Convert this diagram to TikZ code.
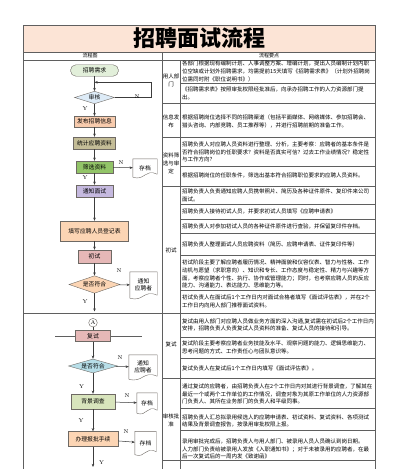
\documentclass[tikz,border=0pt]{standalone}
\usepackage{fontspec}
\newfontfamily\cjk{Noto Sans CJK SC}
\usetikzlibrary{arrows.meta,positioning,calc,shapes.geometric}
\definecolor{titlebg}{RGB}{252,228,214}
\definecolor{linecol}{RGB}{95,95,95}
\definecolor{boxline}{RGB}{110,105,100}
\definecolor{arrowcol}{RGB}{60,60,60}
\definecolor{needfill}{RGB}{226,239,218}
\definecolor{checkfill}{RGB}{221,235,247}
\definecolor{pubfill}{RGB}{248,203,173}
\definecolor{statfill}{RGB}{196,189,151}
\definecolor{screenfill}{RGB}{146,196,104}
\definecolor{notifyfill}{RGB}{197,185,223}
\definecolor{peachfill}{RGB}{252,213,180}
\definecolor{pinkfill}{RGB}{230,184,183}
\definecolor{bluefill}{RGB}{183,222,232}
\definecolor{bgfill}{RGB}{216,228,188}
\newcommand{\flowfont}{\cjk\fontsize{5.8}{6.6}\selectfont}
\newcommand{\descfont}{\cjk\fontsize{5.5}{7.8}\selectfont}
\newcommand{\docoutline}[1]{\draw[boxline, line width=0.4pt] (#1.north west) -- (#1.north east)
  -- ([yshift=3pt]#1.south east) .. controls ([yshift=9pt]#1.south) and ([yshift=-4pt]#1.south) .. (#1.south west) -- cycle;}
\tikzset{
  tableline/.style={draw=linecol, line width=0.5pt},
  flow/.style={draw=arrowcol, line width=0.5pt, -{Stealth[length=3.2pt,width=2.6pt]}},
  procbox/.style={draw=boxline, line width=0.4pt, inner sep=0pt, font=\flowfont},
  decision/.style={diamond, draw=boxline, line width=0.4pt, aspect=3, inner sep=0pt, font=\flowfont},
  docbox/.style={inner sep=0pt, font=\flowfont, align=center},
  yn/.style={font=\fontsize{5.5}{6}\selectfont, inner sep=0pt},
  head/.style={font=\cjk\fontsize{5}{6}\selectfont, inner sep=0pt},
  desc/.style={anchor=west, align=left, inner sep=0pt, font=\descfont},
  cat/.style={align=center, inner sep=0pt, font=\descfont}
}

\begin{document}
\begin{tikzpicture}[x=1pt, y=-1pt, >=Stealth]
\useasboundingbox (0,0) rectangle (400,469);
% title and header
\fill[titlebg] (23,25) rectangle (375,52);
\node[font=\cjk\bfseries\fontsize{22}{24}\selectfont, inner sep=0pt] (title) at (199,38.5) {招聘面试流程};
\node[head] (hflow) at (90,56) {流程图};
\node[head] (hpoint) at (269,56) {流程要点};
% table
\draw[tableline] (23,469) -- (23,25) -- (375,25) -- (375,469);
\draw[tableline] (23,52) -- (375,52);
\draw[tableline] (23,60) -- (375,60);
\draw[tableline] (162,52) -- (162,469);
\draw[tableline] (180,60) -- (180,469);
\foreach \y in {103,137,186,378,460} \draw[tableline] (162,\y) -- (375,\y);
\foreach \y in {83,166,204,219,233,255,290,337,358,408,430} \draw[tableline] (180,\y) -- (375,\y);
\draw[tableline, line width=1pt] (23,313) -- (375,313);
\draw[tableline] (55,336) -- (142,336);

% categories
\node[cat] (c1) at (171,80) {用人部\\门};
\node[cat] (c2) at (171,121.5) {信息发\\布};
\node[cat] (c3) at (171,163.5) {资料筛\\选与审\\定};
\node[cat] (c4) at (171,250.5) {初试};
\node[cat] (c5) at (171,344) {复试};
\node[cat] (c6) at (171,420) {审核批\\准};

% key points
\node[desc] (d1) at (182,71.5) {各部门根据现有编制计划、人事调整方案、增编计划，提出人员编制计划内职\\位空缺或计划外招聘需求，均需提前15天填写《招聘需求表》（计划外招聘岗\\位需同时附《职位说明书》）};
\node[desc] (d2) at (182,93.5) {《招聘需求表》按照审批权限经批准后，向承办招聘工作的人力资源部门提\\出。};
\node[desc] (d3) at (182,121.5) {根据招聘岗位选择不同的招聘渠道（包括平面媒体、网络媒体、参加招聘会、\\猎头咨询、内部竞聘、员工推荐等），并进行招聘前期的准备工作。};
\node[desc] (d4) at (182,152) {招聘负责人对应聘人员资料进行整理、分析，主要考察：应聘者的基本条件是\\否符合招聘岗位的任职要求？资料是否真实可信？过去工作业绩情况？稳定性\\与工作方向？};
\node[desc] (d5) at (182,175) {根据招聘岗位的任职条件，筛选出基本符合招聘职位要求的应聘人员资料。};
\node[desc] (d6) at (182,195) {招聘负责人负责通知应聘人员携带照片、简历及各种证件原件、复印件来公司\\面试。};
\node[desc] (d7) at (182,211.5) {招聘负责人接待初试人员，并要求初试人员填写《应聘申请表》};
\node[desc] (d8) at (182,226) {招聘负责人对参加初试人员的各种证件原件进行查验，并保留复印件存档。};
\node[desc] (d9) at (182,244) {招聘负责人整理面试人员应聘资料（简历、应聘申请表、证件复印件等）};
\node[desc] (d10) at (182,274) {初试阶段主要了解应聘者履历情况、精神面貌和仪容仪表、智力与性格、工作\\动机与愿望（求职意向）、知识和专长、工作态度与稳定性、精力与兴趣等方\\面，考察应聘者个性、执行、协作或管理能力；同时，也考察应聘人员的反应\\能力、沟通能力、表达能力、思维能力等。};
\node[desc] (d11) at (182,301.5) {初试负责人在面试后1个工作日内对面试合格者填写《面试评估表》，并在2个\\工作日内向用人部门推荐面试资料。};
\node[desc] (d12) at (182,325) {复试由用人部门对应聘人员做业务方面的深入沟通,复试需在初试后2个工作日内\\安排，招聘负责人负责复试人员资料的准备、复试人员的接待和引导。};
\node[desc] (d13) at (182,347.5) {复试阶段主要考察应聘者业务技能及水平、观察问题的能力、逻辑思维能力、\\思考问题的方式、工作责任心与团队意识等。};
\node[desc] (d14) at (182,368) {复试负责人在复试后1个工作日内填写《面试评估表》。};
\node[desc] (d15) at (182,394) {通过复试的应聘者，由招聘负责人在2个工作日内对其进行背景调查，了解其在\\最近一个或两个工作单位的工作情况，调查对象为其原工作单位的人力资源部\\门负责人、其所在业务部门的负责人和平级同事。};
\node[desc] (d16) at (182,421) {招聘负责人汇总拟录用候选人的应聘申请表、初试资料、复试资料、各项测试\\结果及背景调查报告，按录用审批权限上报。};
\node[desc] (d17) at (182,449) {录用审批完成后，招聘负责人与用人部门、被录用人员人员确认到岗日期。\\人力部门负责给被录用人发放《入职通知书》；对于未被录用的应聘者，在最\\后一次复试后的一周内发《致谢函》};

% flow chart
\node[procbox, fill=needfill, rounded corners=5.5pt, minimum width=48pt, minimum height=11.5pt] (need) at (94.5,70.5) {招聘需求};
\node[decision, fill=checkfill, minimum width=40pt, minimum height=12.5pt] (check) at (94.5,97.5) {审核};
\node[procbox, fill=pubfill, minimum width=41pt, minimum height=10.5pt] (publish) at (94.5,121.5) {发布招聘信息};
\node[procbox, fill=statfill, minimum width=42pt, minimum height=12pt] (stats) at (94.5,143) {统计应聘资料};
\node[procbox, fill=screenfill, minimum width=37pt, minimum height=12pt] (screen) at (94.5,167) {筛选资料};
\node[docbox, minimum width=24pt, minimum height=18pt] (store1) at (145,168) {存档};
\node[procbox, fill=notifyfill, minimum width=36.5pt, minimum height=12pt] (notify) at (94.5,191) {通知面试};
\node[procbox, fill=peachfill, minimum width=68pt, minimum height=20pt] (form) at (94.5,231) {填写应聘人员登记表};
\node[procbox, fill=pinkfill, minimum width=32.5pt, minimum height=13pt] (first) at (94.5,256.5) {初试};
\node[decision, fill=peachfill, minimum width=51pt, minimum height=17.5pt] (match1) at (94.5,284.5) {是否符合};
\node[docbox, minimum width=27pt, minimum height=26pt] (notice1) at (143.5,285) {通知\\应聘者};
\coordinate (pagebreak) at (94.5,311.5);
\node[circle, draw=boxline, line width=0.4pt, minimum size=8.6pt, inner sep=0pt, font=\fontsize{5.5}{6}\selectfont] (linkA) at (93,322.7) {A};
\node[procbox, fill=pinkfill, minimum width=35pt, minimum height=11pt] (second) at (93,336) {复试};
\node[decision, fill=bluefill, minimum width=49pt, minimum height=14pt] (match2) at (93,366) {是否符合};
\node[docbox, minimum width=28pt, minimum height=24pt] (notice2) at (143,367) {通知\\应聘者};
\node[procbox, fill=bgfill, minimum width=44.5pt, minimum height=15pt] (bgcheck) at (93,401.5) {背景调查};
\node[docbox, minimum width=20pt, minimum height=20pt] (store2) at (147,403) {存档};
\node[procbox, fill=peachfill, minimum width=50pt, minimum height=15pt] (handle) at (93,439) {办理报批手续};
\node[docbox, minimum width=21pt, minimum height=23pt] (store3) at (145.5,443) {存档};
\coordinate (exit) at (93,467);
\coordinate (loopin) at (94.5,82.3);

\docoutline{store1}
\docoutline{notice1}
\docoutline{notice2}
\docoutline{store2}
\docoutline{store3}

% connectors
\draw[flow] (need) -- (check);
\draw[flow] (check.east) -- ++(37,0) |- (loopin);
\draw[flow] (check) -- (publish);
\draw[flow] (publish) -- (stats);
\draw[flow] (stats) -- (screen);
\draw[flow] (screen) -- (store1);
\draw[flow] (screen) -- (notify);
\draw[flow] (notify) -- (form);
\draw[flow] (form) -- (first);
\draw[flow] (first) -- (match1);
\draw[flow] (match1) -- (notice1);
\draw[flow] (match1) -- (pagebreak);
\draw[draw=arrowcol, line width=0.5pt] (linkA) -- (second);
\draw[flow] (second) -- (match2);
\draw[flow] (match2) -- (notice2);
\draw[flow] (match2) -- (bgcheck);
\draw[flow] (bgcheck) -- (store2);
\draw[flow] (bgcheck) -- (handle);
\draw[flow] (handle) -- (store3);
\draw[flow] (handle) -- (exit);

% Y / N labels
\node[yn] (n1) at (137,97) {N};
\node[yn] (y1) at (85,109) {Y};
\node[yn] (n2) at (121,163) {N};
\node[yn] (y2) at (85,178) {Y};
\node[yn] (n3) at (119,271) {N};
\node[yn] (y3) at (85,302) {Y};
\node[yn] (n4) at (120,358) {N};
\node[yn] (y4) at (81.5,387) {Y};
\node[yn] (n5) at (127,396) {N};
\node[yn] (y5) at (81,421) {Y};
\node[yn] (n6) at (126,432) {N};
\node[yn] (y6) at (101.5,463) {Y};
\end{tikzpicture}
\end{document}
